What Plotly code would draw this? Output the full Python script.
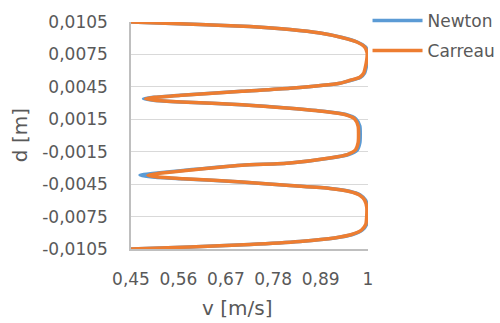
import plotly.graph_objects as go

# Newton profile (v [m/s], d [m]), top to bottom
newton_v = [0.450, 0.610, 0.726, 0.819, 0.889, 0.940, 0.975, 0.994, 1.000, 0.999,
            0.996, 0.992, 0.982, 0.959, 0.935, 0.819, 0.706, 0.565, 0.502, 0.479,
            0.502, 0.565, 0.706, 0.819, 0.901, 0.949, 0.972, 0.981, 0.982, 0.981,
            0.975, 0.955, 0.913, 0.819, 0.706, 0.565, 0.500, 0.471,
            0.500, 0.565, 0.706, 0.819, 0.913, 0.959, 0.982, 0.994, 0.999, 0.999,
            0.997, 0.987, 0.964, 0.923, 0.842, 0.726, 0.587, 0.450]
newton_d = [0.0105, 0.01027, 0.01008, 0.00981, 0.00948, 0.00907, 0.00865, 0.00819, 0.00763, 0.00698,
            0.00634, 0.00578, 0.00537, 0.00509, 0.00483, 0.00437, 0.00409, 0.00372, 0.00353, 0.0034,
            0.00326, 0.0031, 0.00285, 0.00252, 0.00222, 0.00194, 0.00153, 0.00088, 0.00005, -0.00069,
            -0.00134, -0.00176, -0.00208, -0.00254, -0.00276, -0.00326, -0.00352, -0.00368,
            -0.00384, -0.0040, -0.0043, -0.00463, -0.0049, -0.00518, -0.0055, -0.00597, -0.00661, -0.00745,
            -0.00819, -0.00874, -0.00916, -0.00948, -0.0098, -0.01008, -0.01031, -0.0105]

# Carreau profile
carreau_v = [0.450, 0.610, 0.726, 0.819, 0.889, 0.939, 0.974, 0.992, 0.998, 0.997,
             0.994, 0.990, 0.980, 0.957, 0.934, 0.819, 0.708, 0.568, 0.506, 0.484,
             0.506, 0.568, 0.708, 0.819, 0.899, 0.946, 0.969, 0.977, 0.978, 0.977,
             0.971, 0.952, 0.911, 0.819, 0.708, 0.572, 0.512, 0.489,
             0.512, 0.572, 0.708, 0.819, 0.911, 0.957, 0.980, 0.992, 0.997, 0.997,
             0.995, 0.985, 0.962, 0.922, 0.842, 0.726, 0.587, 0.450]
carreau_d = [0.0105, 0.01027, 0.01008, 0.00981, 0.00948, 0.00907, 0.00865, 0.00819, 0.00763, 0.00698,
             0.00634, 0.00578, 0.00537, 0.00509, 0.00483, 0.00437, 0.00409, 0.00372, 0.00353, 0.0034,
             0.00326, 0.0031, 0.00285, 0.00252, 0.00222, 0.00194, 0.00153, 0.00088, 0.00005, -0.00069,
             -0.00134, -0.00176, -0.00208, -0.00254, -0.00276, -0.00326, -0.00352, -0.00368,
             -0.00384, -0.0040, -0.0043, -0.00463, -0.0049, -0.00518, -0.0055, -0.00597, -0.00661, -0.00745,
             -0.00819, -0.00874, -0.00916, -0.00948, -0.0098, -0.01008, -0.01031, -0.0105]

x_ticks = [0.45, 0.56, 0.67, 0.78, 0.89, 1.0]
x_ticktext = ["0,45", "0,56", "0,67", "0,78", "0,89", "1"]
y_ticks = [0.0105, 0.0075, 0.0045, 0.0015, -0.0015, -0.0045, -0.0075, -0.0105]
y_ticktext = ["0,0105", "0,0075", "0,0045", "0,0015", "-0,0015", "-0,0045", "-0,0075", "-0,0105"]

FONT = "DejaVu Sans, sans-serif"
GREY = "#595959"

fig = go.Figure()
fig.add_trace(go.Scatter(x=newton_v, y=newton_d, mode="lines", name="Newton",
                         legendgroup="n",
                         line=dict(color="#5B9BD5", width=3.5, shape="spline", smoothing=0.6)))
fig.add_trace(go.Scatter(x=carreau_v, y=carreau_d, mode="lines", name="Carreau",
                         legendgroup="c",
                         line=dict(color="#ED7D31", width=3.5, shape="spline", smoothing=0.6)))

fig.update_layout(
    width=500, height=323,
    margin=dict(l=131, r=132, t=22, b=74, autoexpand=False),
    paper_bgcolor="white", plot_bgcolor="white",
    font=dict(family=FONT, size=17, color=GREY),
    separators=",.",
    showlegend=True,
    legend=dict(x=0.998, y=1.084, xanchor="left", yanchor="top",
                font=dict(size=17, color=GREY), bgcolor="rgba(0,0,0,0)",
                tracegroupgap=5, itemwidth=50),
    annotations=[
        dict(text="v [m/s]", xref="paper", yref="paper",
             x=0.447, y=-0.26, xanchor="center", yanchor="middle",
             showarrow=False, font=dict(size=20, color=GREY)),
        dict(text="d [m]", xref="paper", yref="paper", textangle=-90,
             x=-0.468, y=0.502, xanchor="center", yanchor="middle",
             showarrow=False, font=dict(size=20, color=GREY)),
    ],
)
fig.update_xaxes(range=[0.45, 1.0], tickvals=x_ticks, ticktext=x_ticktext,
                 showgrid=False, showline=True, linecolor="#BFBFBF", linewidth=1.5,
                 zeroline=False, ticks="", ticklabelstandoff=14, automargin=False)
fig.update_yaxes(range=[-0.0105, 0.0105], tickvals=y_ticks, ticktext=y_ticktext,
                 showgrid=True, gridcolor="#D9D9D9", gridwidth=1,
                 showline=True, linecolor="#BFBFBF", linewidth=1.5,
                 zeroline=False, ticks="", ticklabelstandoff=18, automargin=False)

fig.write_html("out.html", config={"displayModeBar": False},
               post_script="document.body.style.margin='0px';")
